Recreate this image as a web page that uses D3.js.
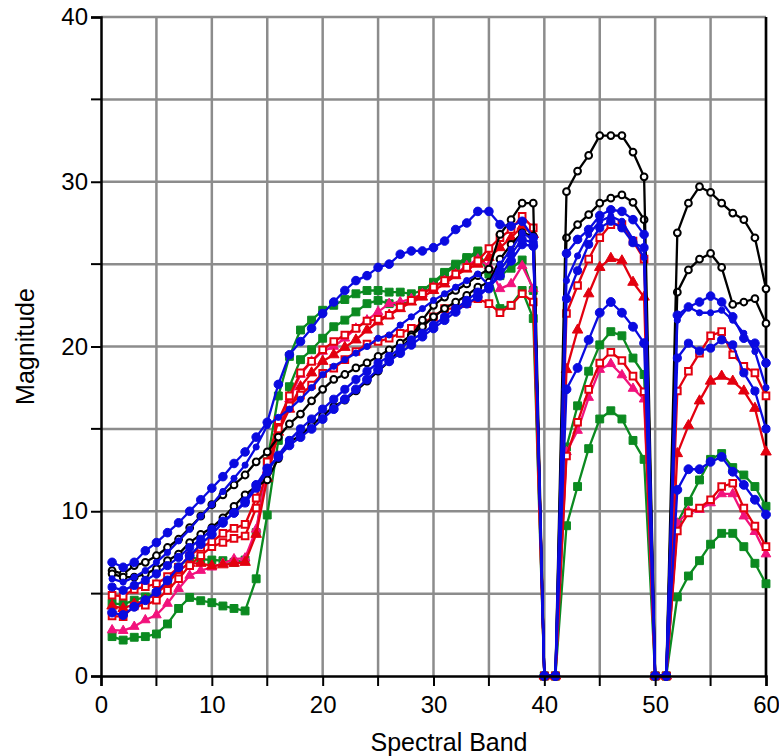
<!DOCTYPE html>
<html>
<head>
<meta charset="utf-8">
<script src="https://cdn.jsdelivr.net/npm/d3@7/dist/d3.min.js"></script>
<style>
  body { margin: 0; background: #fff; }
  text { font-family: "Liberation Sans", Arial, sans-serif; }
</style>
</head>
<body>
<div id="chart"></div>
<script>
// spectral bands 1..60
const bands = [1,2,3,4,5,6,7,8,9,10,11,12,13,14,15,16,17,18,19,20,
  21,22,23,24,25,26,27,28,29,30,31,32,33,34,35,36,37,38,39,40,
  41,42,43,44,45,46,47,48,49,50,51,52,53,54,55,56,57,58,59,60]

const xTicks = [0, 10, 20, 30, 40, 50, 60]
const yTicks = [0, 10, 20, 30, 40]
const gridX = [5, 10, 15, 20, 25, 30, 35, 40, 45, 50, 55, 60]
const gridY = [5, 10, 15, 20, 25, 30, 35, 40]

// black, open circles
const black1 = [6.2,6.0,6.0,6.2,6.5,7.0,7.4,8.1,8.6,9.0, 9.6,10.3,11.0,11.5,11.9,13.2,14.2,14.6,15.2,15.8,
  16.35,16.75,17.3,17.9,18.5,19.1,19.8,20.6,21.6,22.5, 23.0,23.4,23.8,24.3,24.7,26.8,27.7,28.7,28.7,0,
  0,29.4,30.65,31.6,32.8,32.8,32.8,31.8,30.3,0, 0,26.9,28.7,29.7,29.35,28.7,28.1,27.7,26.6,23.5]
const black2 = [6.4,6.2,6.7,6.9,7.3,7.8,8.3,9.0,9.7,10.4, 11.0,11.6,12.2,13.0,13.6,14.5,15.3,15.9,16.7,17.4,
  18.0,18.3,18.7,19.0,19.4,19.8,20.2,20.7,21.2,21.8, 22.3,22.7,23.1,23.6,23.9,25.3,26.2,26.9,26.7,0,
  0,26.6,27.4,28.0,28.7,29.0,29.2,28.75,27.7,0, 0,23.3,24.65,25.3,25.65,24.8,22.55,22.7,22.9,21.4]

// blue, filled circles
const blue1 = [6.9,6.6,6.9,7.6,8.1,8.7,9.3,10.0,10.7,11.4, 12.1,12.9,13.6,14.5,15.4,17.7,19.5,20.3,21.1,22.0,
  22.7,23.4,24.0,24.3,24.8,25.0,25.6,25.8,25.8,26.0, 26.4,27.1,27.5,28.2,28.2,27.4,27.3,27.6,26.6,0,
  0,25.65,26.5,27.1,27.95,28.3,28.2,27.7,26.8,0, 0,21.9,22.4,22.7,23.06,22.7,21.8,20.5,20.2,19.0]
const blue2 = [5.9,5.7,6.0,6.4,6.9,7.5,8.2,8.9,9.7,10.4, 11.2,12.0,12.8,13.9,15.2,15.7,16.2,16.8,17.5,18.3,
  18.8,19.2,19.6,20.0,20.5,20.7,21.3,21.8,22.3,22.8, 23.2,23.6,24.0,24.4,23.7,25.0,25.9,26.9,26.5,0,
  0,24.0,25.5,26.8,27.6,27.9,27.6,26.5,25.4,0, 0,21.6,22.4,22.05,22.05,22.2,21.6,20.8,19.7,17.5]
const blue3 = [5.4,5.2,5.5,5.8,6.2,6.7,7.2,7.8,8.3,8.9, 9.4,9.9,10.5,11.4,12.4,13.4,14.3,15.0,15.6,16.2,
  16.8,17.4,18.0,18.5,19.0,19.4,19.9,20.4,20.8,21.3, 21.8,22.3,22.8,23.3,23.5,24.6,25.6,26.5,26.3,0,
  0,22.9,24.6,26.2,27.2,27.6,27.2,26.3,26.0,0, 0,19.3,20.2,19.73,19.9,20.4,20.1,18.4,17.3,15.0]
const blue4 = [3.85,3.7,4.2,4.6,5.1,5.8,6.6,7.3,8.0,8.6, 9.3,9.9,10.6,11.6,12.6,13.3,14.0,14.5,15.0,15.6,
  16.2,16.8,17.4,18.0,18.6,19.1,19.6,20.1,20.6,21.1, 21.6,22.1,22.6,23.0,23.6,24.3,25.2,26.2,26.1,0,
  0,17.4,18.7,20.4,22.05,22.7,22.05,21.2,20.2,0, 0,11.3,12.55,12.55,13.0,13.3,12.4,11.6,10.7,9.8]

// red, open squares
const redSq1 = [4.9,4.85,5.26,5.42,5.6,6.03,6.6,7.3,7.8,8.15, 8.66,8.96,9.2,10.8,13.0,15.5,17.0,18.4,19.1,19.8,
  20.3,20.7,21.1,21.55,21.65,21.9,22.4,22.8,23.2,23.6, 24.0,24.4,24.8,25.2,25.95,26.6,27.1,27.9,27.2,0,
  0,22.0,23.7,25.3,26.6,27.4,27.4,26.4,25.3,0, 0,17.3,18.5,19.6,20.65,20.9,19.5,18.8,18.4,17.0]
const redSq2 = [3.64,3.6,4.25,4.3,4.6,5.2,5.9,6.7,7.3,7.85, 8.1,8.35,8.5,10.2,12.5,15.0,16.4,17.05,17.66,18.37,
  18.68,19.2,19.7,20.15,20.3,20.5,20.8,21.1,21.4,21.8, 22.3,22.3,22.6,22.9,22.6,22.05,22.5,23.2,22.7,0,
  0,13.35,15.4,17.4,19.0,19.65,19.15,18.2,17.25,0, 0,8.8,9.9,10.2,10.7,11.5,11.7,10.2,9.1,7.85]

// red, filled triangles
const redTri = [4.25,4.1,4.37,4.6,5.0,5.6,6.4,6.84,6.84,6.68, 6.75,6.84,6.9,8.6,12.0,14.8,16.2,17.56,18.4,19.1,
  19.5,19.95,20.4,21.0,21.5,21.9,22.3,22.7,23.0,23.4, 23.8,24.3,24.7,25.0,25.4,26.0,26.6,27.3,26.8,0,
  0,18.6,21.0,23.2,24.8,25.35,25.2,23.9,23.0,0, 0,13.5,15.2,16.7,17.9,18.2,17.9,17.3,16.25,13.6]

// pink, small triangles
const pink = [2.79,2.75,3.0,3.4,3.7,4.4,5.3,6.1,6.4,6.6, 6.84,7.1,7.15,8.9,12.5,15.0,16.8,18.3,19.1,19.7,
  20.0,20.5,21.1,21.6,22.1,22.6,22.7,22.9,23.2,23.6, 24.0,24.4,24.9,25.3,24.9,23.5,23.8,24.9,23.5,0,
  0,13.6,14.9,16.9,18.6,18.95,18.27,17.45,16.8,0, 0,9.27,10.0,10.1,10.5,11.05,11.05,9.7,8.76,7.4]

// green, filled squares
const green1 = [4.41,4.35,4.6,4.8,5.0,5.7,6.6,7.2,7.1,7.04, 7.0,6.9,7.04,8.7,13.0,17.0,19.4,21.0,21.6,22.2,
  22.5,22.85,23.2,23.4,23.4,23.3,23.3,23.2,23.4,23.9, 24.5,25.0,25.4,25.8,24.55,24.3,24.75,25.25,23.4,0,
  0,13.9,16.4,18.5,20.1,20.9,20.65,19.3,18.3,0, 0,9.3,10.6,11.9,13.15,13.5,12.65,12.2,11.5,10.3]
const green2 = [2.39,2.18,2.35,2.39,2.55,3.16,4.1,4.77,4.57,4.45, 4.25,4.1,3.95,5.9,9.77,14.3,17.56,19.2,19.8,20.5,
  21.2,21.6,22.1,22.6,22.8,22.6,22.5,22.8,23.1,23.8, 24.4,24.9,25.3,25.7,24.4,22.3,22.5,23.4,21.7,0,
  0,9.12,11.5,13.8,15.6,16.1,15.6,14.3,13.15,0, 0,4.8,6.07,7.0,8.0,8.66,8.66,7.85,6.84,5.6]

const BLUE = '#0a0ae0', BLACK = '#000', RED = '#e3000f', PINK = '#f2127c', GREEN = '#0b8a20'

// drawing order: first is bottom
const series = [
  { values: green2, color: GREEN, shape: d3.symbolSquare, size: 62, open: false },
  { values: green1, color: GREEN, shape: d3.symbolSquare, size: 62, open: false },
  { values: pink, color: PINK, shape: d3.symbolTriangle, size: 40, open: false },
  { values: redTri, color: RED, shape: d3.symbolTriangle, size: 48, open: false },
  { values: redSq2, color: RED, shape: d3.symbolSquare, size: 44, open: true },
  { values: redSq1, color: RED, shape: d3.symbolSquare, size: 44, open: true },
  { values: black2, color: BLACK, shape: d3.symbolCircle, size: 36, open: true },
  { values: black1, color: BLACK, shape: d3.symbolCircle, size: 36, open: true },
  { values: blue4, color: BLUE, shape: d3.symbolCircle, size: 62, open: false },
  { values: blue3, color: BLUE, shape: d3.symbolCircle, size: 52, open: false },
  { values: blue2, color: BLUE, shape: d3.symbolCircle, size: 30, open: false },
  { values: blue1, color: BLUE, shape: d3.symbolCircle, size: 58, open: false }
]

const width = 779
const height = 756
const margin = { top: 17, right: 13, bottom: 80, left: 101 }

const xScale = d3.scaleLinear()
  .domain([0, 60])
  .range([margin.left, width - margin.right])

const yScale = d3.scaleLinear()
  .domain([0, 40])
  .range([height - margin.bottom, margin.top])

const svg = d3.select('#chart')
  .append('svg')
  .attr('width', width)
  .attr('height', height)
  .attr('viewBox', [0, 0, width, height])

// grid
svg.append('g')
  .selectAll('line')
  .data(gridX)
  .join('line')
  .attr('x1', d => xScale(d)).attr('x2', d => xScale(d))
  .attr('y1', yScale(0)).attr('y2', yScale(40))
  .attr('stroke', '#8c8c8c')
  .attr('stroke-width', 2.5)

svg.append('g')
  .selectAll('line')
  .data(gridY)
  .join('line')
  .attr('x1', xScale(0)).attr('x2', xScale(60))
  .attr('y1', d => yScale(d)).attr('y2', d => yScale(d))
  .attr('stroke', '#8c8c8c')
  .attr('stroke-width', 2.5)

// right border
svg.append('line')
  .attr('x1', xScale(60)).attr('x2', xScale(60))
  .attr('y1', yScale(0)).attr('y2', yScale(40))
  .attr('stroke', '#000')
  .attr('stroke-width', 2.5)

const line = d3.line()
  .x((d, i) => xScale(bands[i]))
  .y(d => yScale(d))

series.forEach(s => {
  const g = svg.append('g')
  g.append('path')
    .datum(s.values)
    .attr('fill', 'none')
    .attr('stroke', s.color)
    .attr('stroke-width', 2.3)
    .attr('stroke-linejoin', 'round')
    .attr('d', line)

  g.selectAll('path.mk')
    .data(s.values)
    .join('path')
    .attr('class', 'mk')
    .attr('transform', (d, i) => `translate(${xScale(bands[i])},${yScale(d)})`)
    .attr('d', d3.symbol().type(s.shape).size(s.size))
    .attr('fill', s.open ? '#fff' : s.color)
    .attr('stroke', s.color)
    .attr('stroke-width', s.open ? 2 : 1)
})

// axes
const xAxis = g => g
  .attr('transform', `translate(0,${height - margin.bottom})`)
  .call(d3.axisBottom(xScale).tickValues(xTicks).tickSize(10).tickPadding(10).tickFormat(d3.format('d')))
  .call(g => g.select('.domain').attr('stroke-width', 2.5))

const yAxis = g => g
  .attr('transform', `translate(${margin.left},0)`)
  .call(d3.axisLeft(yScale).tickValues(yTicks).tickSize(10).tickPadding(3).tickFormat(d3.format('d')))
  .call(g => g.select('.domain').attr('stroke-width', 2.5))

svg.append('g').call(xAxis)
svg.append('g').call(yAxis)

// minor ticks at the 5s
svg.append('g')
  .selectAll('line')
  .data([5, 15, 25, 35, 45, 55])
  .join('line')
  .attr('x1', d => xScale(d)).attr('x2', d => xScale(d))
  .attr('y1', yScale(0)).attr('y2', yScale(0) + 10)
  .attr('stroke', '#000').attr('stroke-width', 2)

svg.append('g')
  .selectAll('line')
  .data([5, 15, 25, 35])
  .join('line')
  .attr('x1', xScale(0) - 10).attr('x2', xScale(0))
  .attr('y1', d => yScale(d)).attr('y2', d => yScale(d))
  .attr('stroke', '#000').attr('stroke-width', 2)

svg.selectAll('.tick line').attr('stroke-width', 2)
svg.selectAll('.tick text').attr('font-size', 24).attr('fill', '#000')
  .style('font-family', '"Liberation Sans", Arial, sans-serif')

svg.append('text')
  .attr('x', 449)
  .attr('y', 751)
  .attr('text-anchor', 'middle')
  .attr('font-size', 25)
  .text('Spectral Band')

svg.append('text')
  .attr('transform', `translate(34,${(yScale(0) + yScale(40)) / 2}) rotate(-90)`)
  .attr('text-anchor', 'middle')
  .attr('font-size', 25)
  .text('Magnitude')
</script>
</body>
</html>
